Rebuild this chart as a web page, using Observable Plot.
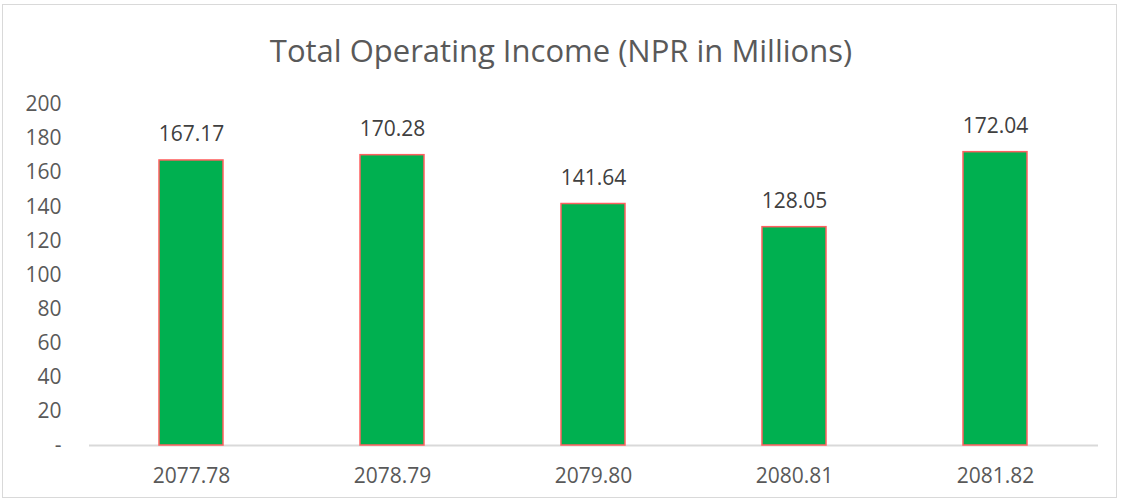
<!DOCTYPE html>
<html><head><meta charset="utf-8">
<script src="https://cdn.jsdelivr.net/npm/d3@7"></script>
<script src="https://cdn.jsdelivr.net/npm/@observablehq/plot@0.6"></script>
<style>
html,body{margin:0;padding:0;background:#fff;}
#wrap{position:relative;width:1122px;height:503px;overflow:hidden;font-family:"Open Sans",sans-serif;}
#frame{position:absolute;left:2px;top:4px;width:1115px;height:494px;border:1px solid #d9d9d9;box-sizing:border-box;pointer-events:none;}
#title{position:absolute;left:0;top:29px;width:1122px;text-align:center;font-size:31px;line-height:42px;color:#595959;}
</style></head><body>
<div id="wrap"><div id="chart"></div><div id="frame"></div><div id="title">Total Operating Income (NPR in Millions)</div></div>
<script>
const years = ["2077.78","2078.79","2079.80","2080.81","2081.82"];
const income = [167.17,170.28,141.64,128.05,172.04];
const yTicks = [0,20,40,60,80,100,120,140,160,180,200];
const data = years.map((y,i)=>({year:y, value:income[i]}));

const chart = Plot.plot({
  width:1122, height:503,
  marginLeft:89, marginRight:24, marginTop:104, marginBottom:58,
  style:{fontFamily:"'Open Sans',sans-serif", fontSize:"21px", color:"#595959", background:"transparent"},
  x:{domain:years, paddingInner:0.68, paddingOuter:0.34, label:null, tickSize:0, tickPadding:23},
  y:{domain:[0,200], ticks:yTicks, label:null, tickSize:0, tickPadding:28, tickFormat:d=>d===0?"-":d},
  marks:[
    Plot.ruleY([0],{stroke:"#d9d9d9", strokeWidth:2}),
    Plot.barY(data,{x:"year", y:"value", fill:"#00B050", stroke:"#FF5F5F", strokeWidth:1.5}),
    Plot.text(data,{x:"year", y:"value", text:d=>d.value.toFixed(2), dy:-26, fontSize:21, fill:"#404040"})
  ]
});
document.getElementById("chart").appendChild(chart);
</script>
</body></html>
